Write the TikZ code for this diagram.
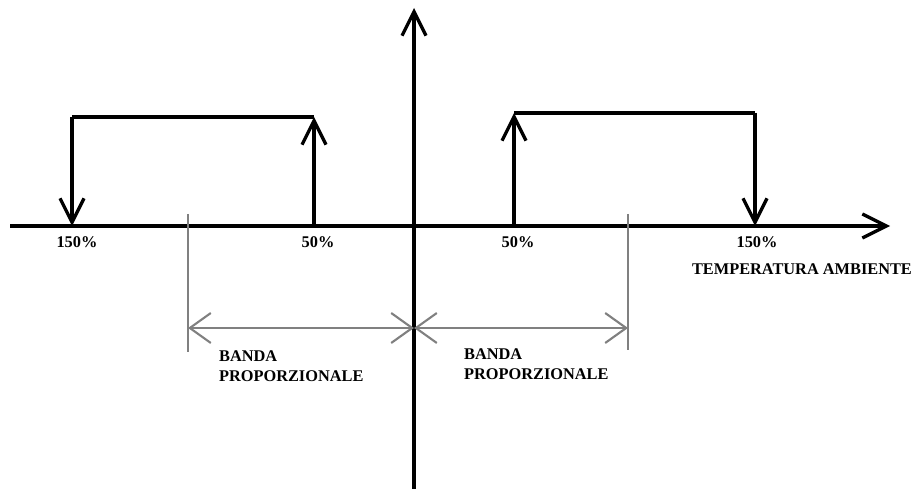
\documentclass[tikz,border=0pt]{standalone}
\usepackage{fontspec}
\setmainfont{Liberation Serif}
\usetikzlibrary{arrows.meta}
\tikzset{
  axis/.style={line width=2pt, -{Straight Barb[length=4.8mm,width=4.8mm,line width=1.9pt]}},
  signal/.style={line width=2pt},
  band/.style={draw=gray, line width=1.2pt},
  bandarrow/.style={gray, line width=1.2pt, {Straight Barb[length=4.2mm,width=6mm]}-{Straight Barb[length=4.2mm,width=6mm]}},
  lbl/.style={font=\fontsize{9.3}{11.2}\selectfont\bfseries, inner sep=1pt},
}
\begin{document}
\begin{tikzpicture}[x=0.02cm, y=-0.02cm]
  \useasboundingbox (0,0) rectangle (915,489);

  % axes
  \coordinate (O) at (414,226);
  \coordinate (xs) at (10,226);
  \coordinate (xe) at (890,226);
  \coordinate (yb) at (414,489);
  \coordinate (yt) at (414,8);
  \draw[axis] (xs) -- (xe);
  \draw[axis] (yb) -- (yt);

  % left cycle
  \coordinate (L1) at (72,226);
  \coordinate (L1t) at (72,117);
  \coordinate (L2) at (314,226);
  \coordinate (L2t) at (314,117);
  \draw[signal] (L2t) -- (L1t);
  \draw[axis] (L1t) -- (L1);
  \draw[axis] (L2) -- (L2t);

  % right cycle
  \coordinate (R1) at (514,226);
  \coordinate (R1t) at (514,113);
  \coordinate (R2) at (755,226);
  \coordinate (R2t) at (755,113);
  \draw[signal] (R1t) -- (R2t);
  \draw[axis] (R1) -- (R1t);
  \draw[axis] (R2t) -- (R2);

  \node[lbl] (p1) at (77,242) {150\%};
  \node[lbl] (p2) at (318,242) {50\%};
  \node[lbl] (p3) at (518,242) {50\%};
  \node[lbl] (p4) at (757,242) {150\%};
  \node[lbl, anchor=east] (temp) at (914,269) {TEMPERATURA AMBIENTE};

  % proportional bands
  \coordinate (B1t) at (188,214);
  \coordinate (B1b) at (188,352);
  \coordinate (B2t) at (628,214);
  \coordinate (B2b) at (628,350);
  \draw[band] (B1t) -- (B1b);
  \draw[band] (B2t) -- (B2b);
  \coordinate (A1) at (188,328);
  \coordinate (A0) at (414,328);
  \coordinate (A2) at (628,328);
  \draw[bandarrow] (A1) -- (A0);
  \draw[bandarrow] (A0) -- (A2);

  \node[lbl, anchor=north west, align=left] (bl) at (217,349) {BANDA\\PROPORZIONALE};
  \node[lbl, anchor=north west, align=left] (br) at (462,347) {BANDA\\PROPORZIONALE};
\end{tikzpicture}
\end{document}
